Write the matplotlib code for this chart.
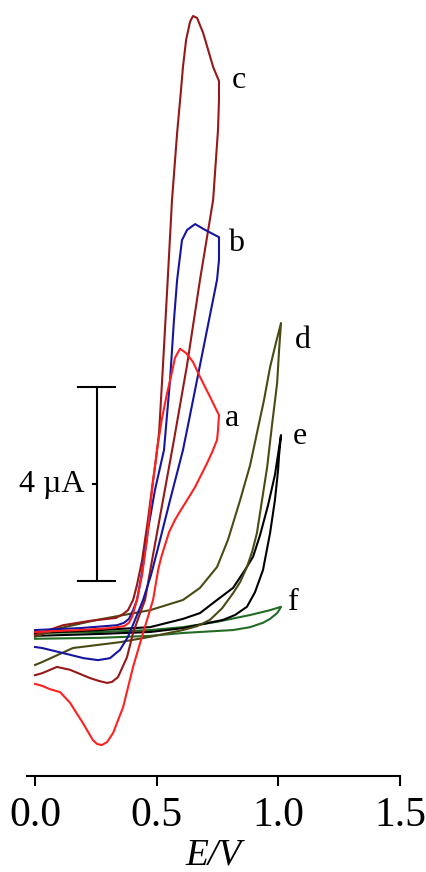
import matplotlib
matplotlib.use('Agg')
import matplotlib.pyplot as plt

plt.rcParams['font.family'] = ['Liberation Serif', 'DejaVu Serif']

# cyclic voltammograms, potential in V and current in uA (forward then reverse scan)
E_a = [0.000, 0.185, 0.308, 0.366, 0.386, 0.399, 0.419, 0.440, 0.460, 0.481, 0.501, 0.522, 0.543,
       0.563, 0.575, 0.596, 0.621, 0.649, 0.678, 0.719, 0.756,
       0.752, 0.748, 0.728, 0.707, 0.683, 0.658, 0.625, 0.600, 0.575, 0.551, 0.534, 0.518, 0.506,
       0.485, 0.464, 0.444, 0.403, 0.362, 0.321, 0.296, 0.275, 0.255, 0.238, 0.197, 0.144, 0.103,
       0.062, 0.029, 0.000]
I_a = [0.00, 0.04, 0.08, 0.12, 0.19, 0.31, 0.66, 1.18, 1.90, 2.93, 3.75, 4.41, 4.93,
       5.36, 5.65, 5.84, 5.75, 5.57, 5.26, 4.85, 4.47,
       4.16, 3.96, 3.71, 3.48, 3.24, 2.99, 2.72, 2.52, 2.31, 2.06, 1.79, 1.53, 1.28,
       0.66, 0.31, -0.02, -0.72, -1.55, -2.08, -2.27, -2.33, -2.31, -2.23, -1.88, -1.46, -1.24,
       -1.18, -1.11, -1.07]

E_b = [0.000, 0.185, 0.337, 0.366, 0.386, 0.403, 0.419, 0.440, 0.464, 0.493, 0.530, 0.555, 0.571,
       0.584, 0.604, 0.625, 0.658, 0.699, 0.756,
       0.756, 0.748, 0.707, 0.666, 0.633, 0.608, 0.555, 0.514, 0.477, 0.444, 0.411, 0.382,
       0.349, 0.308, 0.259, 0.200, 0.144, 0.029, 0.000]
I_b = [0.04, 0.08, 0.14, 0.19, 0.27, 0.45, 0.66, 1.24, 2.10, 2.93, 3.75, 5.20, 6.43,
       7.26, 8.08, 8.29, 8.41, 8.29, 8.14,
       7.67, 7.26, 6.23, 5.20, 4.37, 3.75, 2.72, 1.90, 1.18, 0.66, 0.25, -0.10,
       -0.37, -0.54, -0.58, -0.54, -0.47, -0.33, -0.31]

E_c = [0.000, 0.115, 0.226, 0.333, 0.362, 0.382, 0.403, 0.419, 0.440, 0.464, 0.485, 0.497, 0.510,
       0.526, 0.543, 0.563, 0.584, 0.600, 0.608, 0.621, 0.637, 0.649, 0.666, 0.691, 0.732, 0.756,
       0.756, 0.752, 0.732, 0.678, 0.625, 0.571, 0.526, 0.481, 0.452, 0.432, 0.403, 0.378,
       0.341, 0.316, 0.296, 0.263, 0.226, 0.144, 0.090, 0.029, 0.000]
I_c = [-0.06, 0.14, 0.23, 0.29, 0.37, 0.45, 0.66, 0.97, 1.48, 2.31, 3.13, 3.55, 4.12,
       5.51, 7.05, 8.91, 10.29, 11.18, 11.65, 12.21, 12.58, 12.70, 12.66, 12.35, 11.65, 11.36,
       10.97, 10.35, 8.91, 7.26, 5.51, 3.96, 2.72, 1.48, 0.66, 0.39, -0.02, -0.52,
       -0.93, -1.03, -1.05, -1.01, -0.95, -0.78, -0.72, -0.85, -0.89]

E_d = [0.000, 0.103, 0.255, 0.473, 0.608, 0.678, 0.748, 0.793, 0.843, 0.884, 0.912, 0.941,
       0.966, 0.991, 1.011,
       1.003, 0.995, 0.974, 0.954, 0.933, 0.912, 0.892, 0.871, 0.843, 0.814, 0.769, 0.719,
       0.666, 0.608, 0.473, 0.349, 0.156, 0.029, 0.000]
I_d = [-0.10, 0.08, 0.25, 0.45, 0.66, 0.91, 1.34, 1.90, 2.72, 3.44, 4.10, 4.78,
       5.46, 5.98, 6.37,
       5.81, 5.13, 4.27, 3.40, 2.72, 2.04, 1.65, 1.34, 1.03, 0.80, 0.49, 0.25,
       0.12, 0.04, -0.10, -0.21, -0.33, -0.62, -0.68]

E_e = [0.000, 0.267, 0.473, 0.608, 0.678, 0.748, 0.814, 0.863, 0.896, 0.925, 0.958, 0.986, 1.011,
       1.003, 0.999, 0.986, 0.966, 0.937, 0.904, 0.871, 0.822, 0.773, 0.608, 0.473, 0.267, 0.000]
I_e = [-0.02, 0.04, 0.10, 0.27, 0.39, 0.66, 0.91, 1.28, 1.55, 2.00, 2.62, 3.24, 4.06,
       3.65, 3.34, 2.72, 2.04, 1.28, 0.82, 0.52, 0.35, 0.25, 0.08, 0.00, -0.04, -0.08]

E_f = [0.000, 0.267, 0.473, 0.608, 0.748, 0.884, 0.966, 1.011,
       1.003, 0.995, 0.966, 0.937, 0.884, 0.814, 0.608, 0.473, 0.267, 0.000]
I_f = [-0.02, 0.00, 0.04, 0.10, 0.21, 0.35, 0.45, 0.52,
       0.45, 0.39, 0.27, 0.19, 0.10, 0.04, -0.02, -0.08, -0.12, -0.14]

curves = [
    (E_f, I_f, '#236b23', 'f', (1.06, 0.60)),
    (E_e, I_e, '#000000', 'e', (1.09, 4.04)),
    (E_d, I_d, '#4a4a14', 'd', (1.10, 6.02)),
    (E_c, I_c, '#961818', 'c', (0.838, 11.38)),
    (E_b, I_b, '#1515a0', 'b', (0.826, 8.00)),
    (E_a, I_a, '#ff2020', 'a', (0.810, 4.41)),
]

fig = plt.figure(figsize=(4.27, 8.72), dpi=100)
ax = fig.add_axes([27 / 427, 1 - 776 / 872, 373 / 427, 776 / 872])

for E, I, col, lab, pos in curves:
    ax.plot(E, I, color=col, lw=1.5, solid_joinstyle='round')
    ax.text(pos[0], pos[1], lab, fontsize=23, ha='center', va='center')

# 4 uA scale bar
bar_x, bar_lo, bar_hi = 0.255, 1.05, 5.05
ax.plot([bar_x, bar_x], [bar_lo, bar_hi], color='black', lw=1.5)
ax.plot([0.177, 0.329], [bar_lo, bar_lo], color='black', lw=1.5)
ax.plot([0.177, 0.329], [bar_hi, bar_hi], color='black', lw=1.5)
ax.plot([0.238, bar_x], [3.05, 3.05], color='black', lw=1.5)
ax.text(0.205, 3.05, '4 µA', fontsize=23, ha='right', va='center')

ax.set_xlim(-0.033, 1.5)
ax.set_ylim(-2.969, 13.03)
ax.set_xticks([0.0, 0.5, 1.0, 1.5])
ax.set_xticklabels(['0.0', '0.5', '1.0', '1.5'])
ax.tick_params(axis='x', direction='out', length=7, width=1.5, labelsize=30, pad=8)
ax.set_yticks([])
for s in ['left', 'right', 'top']:
    ax.spines[s].set_visible(False)
ax.spines['bottom'].set_linewidth(1.5)
ax.set_xlabel('E/V', fontsize=27, fontstyle='italic', labelpad=2)

fig.savefig('out.png', dpi=100)
